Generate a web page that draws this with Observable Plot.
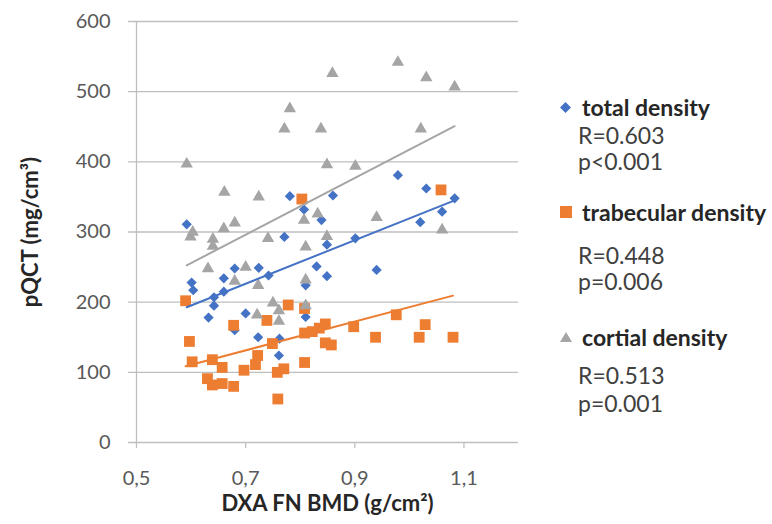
<!DOCTYPE html>
<html>
<head>
<meta charset="utf-8">
<script src="https://cdn.jsdelivr.net/npm/d3@7"></script>
<script src="https://cdn.jsdelivr.net/npm/@observablehq/plot@0.6"></script>
<style>
  body { margin: 0; background: #fff; }
  #wrap { position: relative; width: 772px; height: 524px; font-family: Lato, "Open Sans", sans-serif; }
  #legend { position: absolute; left: 560px; top: 0; color: #404040; font-size: 23px; line-height: 28px; }
  .item { position: absolute; white-space: nowrap; height: 28px; }
  .name { font-weight: bold; color: #262626; }
  .sub { color: #404040; }
  .mk { position: absolute; display: block; }
</style>
</head>
<body>
<div id="wrap"><div id="legend"></div></div>
<script>
// ---- data ----
const totalX = [0.592,0.601,0.604,0.642,0.642,0.632,0.660,0.660,0.680,0.700,0.680,0.724,0.742,0.723,0.761,0.762,0.771,0.781,0.807,0.810,0.810,0.830,0.839,0.849,0.849,0.860,0.901,0.940,0.979,1.020,1.031,1.060,1.083];
const totalY = [311,228,217,207,195,178,234,215,248,184,160,249,238,150,124,148,293,351,332,224,179,251,317,282,237,352,291,246,381,314,362,329,348];

const trabX = [0.590,0.597,0.602,0.639,0.657,0.630,0.639,0.657,0.678,0.678,0.697,0.718,0.722,0.739,0.749,0.758,0.759,0.770,0.778,0.803,0.808,0.808,0.808,0.822,0.835,0.846,0.846,0.857,0.898,0.938,0.976,1.018,1.029,1.058,1.080];
const trabY = [202,144,115,118,107,91,82,84,80,167,103,111,124,174,141,100,62,105,196,347,191,156,114,158,163,169,142,139,165,150,182,150,168,360,150];

const cortX = [0.592,0.599,0.603,0.640,0.640,0.631,0.660,0.661,0.680,0.680,0.700,0.723,0.721,0.724,0.741,0.750,0.761,0.761,0.771,0.781,0.807,0.810,0.810,0.810,0.832,0.838,0.849,0.849,0.859,0.901,0.940,0.979,1.021,1.031,1.060,1.083];
const cortY = [399,295,302,292,282,250,307,359,315,232,252,226,184,352,293,201,190,175,449,478,319,281,234,197,328,449,398,296,528,396,323,544,449,522,305,509];

const seriesNames = ["total density", "trabecular density", "cortial density"];
const seriesR = ["R=0.603", "R=0.448", "R=0.513"];
const seriesP = ["p<0.001", "p=0.006", "p=0.001"];
const seriesColors = ["#4472C4", "#ED7D31", "#A5A5A5"];

const xTicks = [0.5, 0.7, 0.9, 1.1];
const yTicks = [0, 100, 200, 300, 400, 500, 600];
const xTitle = "DXA FN BMD (g/cm²)";
const yTitle = "pQCT (mg/cm³)";

// ---- build tables ----
const toRows = (xs, ys) => xs.map((x, i) => ({x, y: ys[i]}));
const total = toRows(totalX, totalY);
const trab = toRows(trabX, trabY);
const cort = toRows(cortX, cortY);

const chart = Plot.plot({
  width: 772,
  height: 524,
  marginLeft: 136,
  marginRight: 254,
  marginTop: 21,
  marginBottom: 82,
  style: {fontFamily: "Lato, 'Open Sans', sans-serif", fontSize: "20px", color: "#595959", background: "white"},
  x: {domain: [0.5, 1.2]},
  y: {domain: [0, 600]},
  marks: [
    Plot.ruleY(yTicks, {stroke: "#BFBFBF", strokeWidth: 1.3, insetLeft: -8}),
    Plot.ruleX([0.5], {stroke: "#BFBFBF", strokeWidth: 1.3}),
    Plot.axisX(xTicks, {tickSize: 6, tickPadding: 22, stroke: "#BFBFBF", strokeWidth: 1.3, fill: "#595959",
      tickFormat: d => d.toFixed(1).replace(".", ","), label: null}),
    Plot.axisY(yTicks, {tickSize: 0, tickPadding: 26, fill: "#595959", label: null}),
    Plot.dot(total, {x: "x", y: "y", symbol: "diamond2", r: 4.6, fill: seriesColors[0], stroke: null}),
    Plot.dot(trab, {x: "x", y: "y", symbol: "square", r: 6.1, fill: seriesColors[1], stroke: null}),
    Plot.dot(cort, {x: "x", y: "y", symbol: "triangle", r: 4.6, fill: seriesColors[2], stroke: null, dy: 1.5}),
    Plot.linearRegressionY(total, {x: "x", y: "y", stroke: seriesColors[0], strokeWidth: 2, ci: 0}),
    Plot.linearRegressionY(trab, {x: "x", y: "y", stroke: seriesColors[1], strokeWidth: 2, ci: 0}),
    Plot.linearRegressionY(cort, {x: "x", y: "y", stroke: seriesColors[2], strokeWidth: 2, ci: 0}),
    Plot.text([xTitle], {frameAnchor: "bottom", lineAnchor: "middle", textAnchor: "middle", dy: 61, fontWeight: "bold", fontSize: 22, fill: "#262626"}),
    Plot.text([yTitle], {frameAnchor: "left", textAnchor: "middle", lineAnchor: "middle", rotate: -90, dx: -106, fontWeight: "bold", fontSize: 22, fill: "#262626"})
  ]
});
document.getElementById("wrap").prepend(chart);

// ---- legend (HTML) ----
const legend = document.getElementById("legend");
const nameCenters = [107, 212, 337];
const rCenters = [135, 255, 375];
const pCenters = [161, 281, 403];
const markers = [
  c => `<svg class="mk" style="left:0;top:9px" width="11" height="11"><path d="M5.5 0 L11 5.5 L5.5 11 L0 5.5Z" fill="${c}"/></svg>`,
  c => `<svg class="mk" style="left:0;top:8px" width="12" height="12"><rect width="12" height="12" fill="${c}"/></svg>`,
  c => `<svg class="mk" style="left:0;top:9px" width="12" height="10"><path d="M6 0 L12 10 L0 10Z" fill="${c}"/></svg>`
];
seriesNames.forEach((name, i) => {
  legend.insertAdjacentHTML("beforeend",
    `<div class="item" style="top:${nameCenters[i] - 14}px;left:0;width:220px">${markers[i](seriesColors[i])}<span class="name" style="position:absolute;left:22px;top:0">${name}</span></div>` +
    `<div class="item sub" style="top:${rCenters[i] - 14}px;left:18px">${seriesR[i]}</div>` +
    `<div class="item sub" style="top:${pCenters[i] - 14}px;left:18px">${seriesP[i]}</div>`);
});
</script>
</body>
</html>
